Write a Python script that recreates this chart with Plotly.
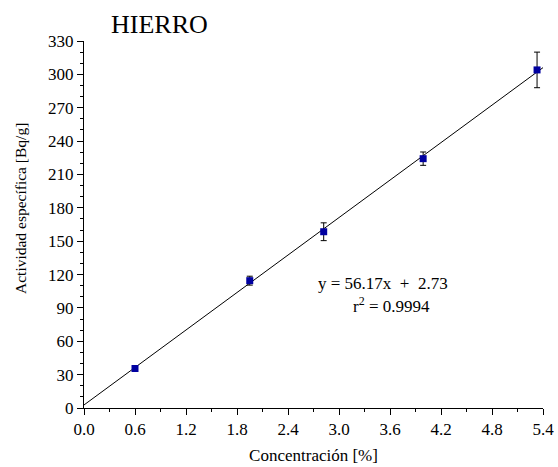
import plotly.graph_objects as go

conc = [0.6, 1.95, 2.82, 3.99, 5.33]
actividad = [35.5, 114.5, 158.5, 224.2, 304.0]
error = [2.0, 4.0, 8.0, 6.0, 16.0]
slope = 56.17
intercept = 2.73
fit_x = [0.0, 5.4]
fit_y = [slope * x + intercept for x in fit_x]

font = "Liberation Serif, Times New Roman, serif"

fig = go.Figure()
fig.add_trace(go.Scatter(x=fit_x, y=fit_y, mode="lines",
                         line=dict(color="black", width=1), showlegend=False))
fig.add_trace(go.Scatter(x=conc, y=actividad, mode="markers",
                         marker=dict(symbol="square", size=7, color="#0000A0"),
                         error_y=dict(type="data", array=error, color="black",
                                      thickness=1, width=3),
                         showlegend=False))

fig.add_annotation(x=3.52, y=112.4, xref="x", yref="y", showarrow=False,
                   xanchor="center", yanchor="middle",
                   text="y = 56.17x  +  2.73", font=dict(family=font, size=17, color="black"))
fig.add_annotation(x=3.62, y=92.6, xref="x", yref="y", showarrow=False,
                   xanchor="center", yanchor="middle",
                   text="r<sup>2</sup> = 0.9994", font=dict(family=font, size=17, color="black"))
fig.add_annotation(x=(159 - 84) / 459, y=(408 - 24) / 367, xref="paper", yref="paper",
                   showarrow=False, xanchor="center", yanchor="middle",
                   text="HIERRO", font=dict(family=font, size=26, color="black"))
fig.add_annotation(x=(20 - 84) / 459, y=(408 - 209) / 367, xref="paper", yref="paper",
                   showarrow=False, xanchor="center", yanchor="middle", textangle=-90,
                   text="Actividad específica [Bq/g]", font=dict(family=font, size=15.5, color="black"))

fig.update_layout(
    width=558, height=467,
    margin=dict(l=84, r=15, t=41, b=59, autoexpand=False),
    paper_bgcolor="white", plot_bgcolor="white",
    font=dict(family=font, size=17, color="black"),
    xaxis=dict(range=[0, 5.4], tickvals=[0, 0.6, 1.2, 1.8, 2.4, 3.0, 3.6, 4.2, 4.8, 5.4],
               ticktext=["0.0", "0.6", "1.2", "1.8", "2.4", "3.0", "3.6", "4.2", "4.8", "5.4"],
               showgrid=False, zeroline=False, showline=True, linecolor="black", linewidth=1,
               ticks="outside", ticklen=6, tickcolor="black",
               tickfont=dict(size=17),
               minor=dict(dtick=0.3, tick0=0, ticks="outside", ticklen=3, tickcolor="black"),
               title=dict(text="Concentración [%]", font=dict(size=17), standoff=10)),
    yaxis=dict(range=[0, 330], tickvals=list(range(0, 331, 30)),
               showgrid=False, zeroline=False, showline=True, linecolor="black", linewidth=1,
               ticks="outside", ticklen=6, tickcolor="black",
               tickfont=dict(size=17),
               minor=dict(dtick=10, tick0=0, ticks="outside", ticklen=3, tickcolor="black")),
)

fig.write_html("out.html")
